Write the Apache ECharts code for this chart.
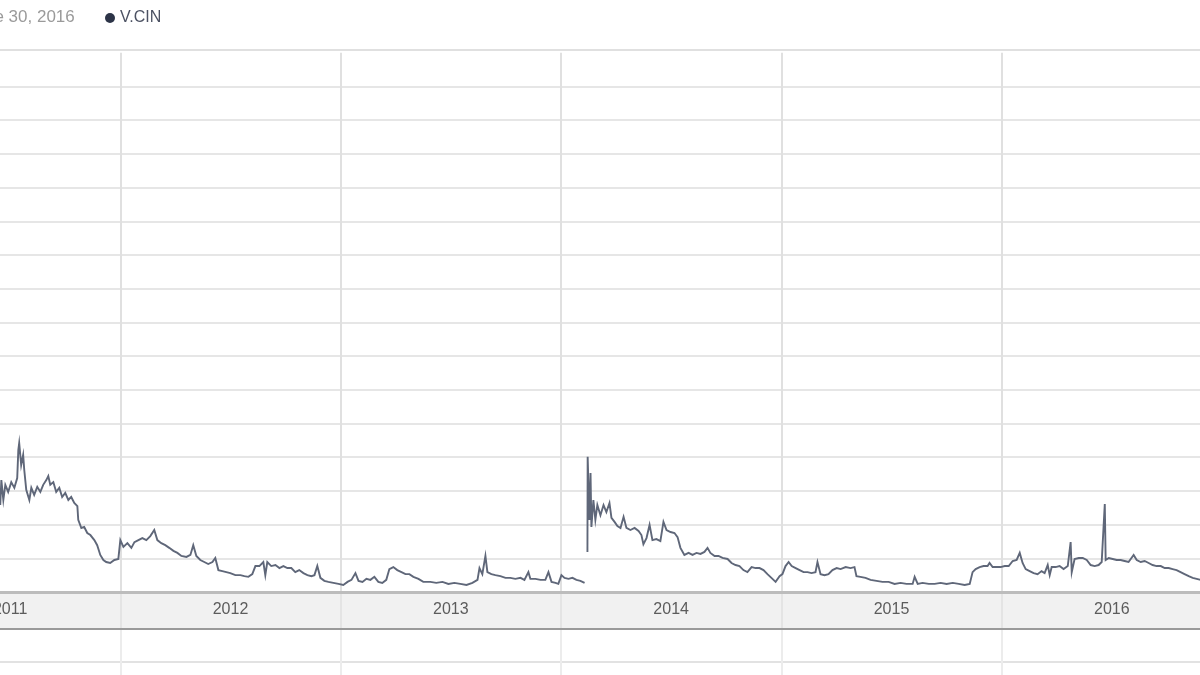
<!DOCTYPE html>
<html>
<head>
<meta charset="utf-8">
<script src="https://cdn.jsdelivr.net/npm/echarts@6/dist/echarts.min.js"></script>
<style>
html,body{margin:0;padding:0;background:#fff;overflow:hidden;width:1200px;height:675px;}
#wrap{position:relative;width:1200px;height:675px;overflow:hidden;}
#chart{position:absolute;left:-100.25px;top:0;width:1321.5px;height:730px;}
</style>
</head>
<body>
<div id="wrap"><div id="chart"></div></div>
<script>
// Year band labels on the time axis
const yearLabels = ['2011','2012','2013','2014','2015','2016'];
// Dates as decimal years ('-' in prices marks the break in the line)
const dates = [
2011.455,2011.460,2011.469,2011.478,2011.491,2011.505,2011.519,2011.532,2011.537,2011.541,
2011.550,2011.559,2011.564,2011.573,2011.587,2011.596,2011.609,2011.623,2011.637,2011.650,
2011.664,2011.673,2011.682,2011.696,2011.709,2011.723,2011.736,2011.750,2011.764,2011.777,
2011.791,2011.805,2011.809,2011.823,2011.836,2011.850,2011.864,2011.882,2011.895,2011.909,
2011.923,2011.936,2011.954,2011.973,2011.991,2012.000,2012.014,2012.032,2012.050,2012.064,
2012.082,2012.100,2012.118,2012.136,2012.154,2012.168,2012.186,2012.204,2012.222,2012.241,
2012.259,2012.277,2012.300,2012.318,2012.331,2012.345,2012.363,2012.381,2012.399,2012.418,
2012.431,2012.445,2012.463,2012.481,2012.499,2012.522,2012.545,2012.563,2012.581,2012.599,
2012.613,2012.631,2012.649,2012.658,2012.667,2012.685,2012.704,2012.722,2012.740,2012.758,
2012.776,2012.794,2012.812,2012.831,2012.849,2012.867,2012.881,2012.894,2012.908,2012.926,
2012.944,2012.967,2012.990,2013.012,2013.031,2013.049,2013.067,2013.081,2013.099,2013.117,
2013.135,2013.153,2013.171,2013.189,2013.207,2013.221,2013.239,2013.257,2013.276,2013.294,
2013.312,2013.330,2013.353,2013.375,2013.407,2013.434,2013.462,2013.489,2013.516,2013.543,
2013.571,2013.598,2013.621,2013.630,2013.643,2013.657,2013.666,2013.684,2013.702,2013.725,
2013.748,2013.770,2013.793,2013.816,2013.834,2013.852,2013.861,2013.884,2013.907,2013.929,
2013.943,2013.957,2013.975,2013.988,2014.002,2014.016,2014.034,2014.052,2014.070,2014.088,
2014.107,2014.114,
2014.120,2014.121,2014.129,2014.134,2014.138,2014.147,2014.156,2014.165,2014.179,2014.193,
2014.206,2014.220,2014.229,2014.243,2014.256,2014.270,2014.284,2014.297,2014.315,2014.334,
2014.352,2014.365,2014.374,2014.388,2014.402,2014.415,2014.433,2014.451,2014.465,2014.479,
2014.497,2014.515,2014.529,2014.542,2014.560,2014.579,2014.597,2014.615,2014.633,2014.651,
2014.665,2014.678,2014.697,2014.715,2014.733,2014.756,2014.774,2014.792,2014.810,2014.828,
2014.846,2014.865,2014.883,2014.901,2014.919,2014.937,2014.955,2014.974,2014.992,2015.005,
2015.019,2015.033,2015.047,2015.065,2015.083,2015.101,2015.119,2015.137,2015.155,2015.164,
2015.178,2015.196,2015.214,2015.232,2015.251,2015.269,2015.292,2015.314,2015.332,2015.341,
2015.359,2015.382,2015.405,2015.432,2015.459,2015.487,2015.514,2015.541,2015.568,2015.596,
2015.605,2015.619,2015.641,2015.669,2015.696,2015.723,2015.750,2015.778,2015.805,2015.832,
2015.855,2015.868,2015.882,2015.900,2015.918,2015.936,2015.945,2015.959,2015.977,2015.995,
2016.014,2016.032,2016.050,2016.068,2016.082,2016.095,2016.109,2016.127,2016.145,2016.163,
2016.181,2016.195,2016.209,2016.218,2016.227,2016.245,2016.263,2016.281,2016.300,2016.313,
2016.318,2016.331,2016.350,2016.368,2016.386,2016.404,2016.422,2016.440,2016.454,2016.468,
2016.472,2016.486,2016.504,2016.522,2016.540,2016.558,2016.576,2016.599,2016.613,2016.631,
2016.649,2016.667,2016.685,2016.703,2016.722,2016.740,2016.758,2016.776,2016.794,2016.812,
2016.830,2016.849,2016.867,2016.885,2016.903
];
// Prices (estimated; '-' = no trading)
const prices = [
0.258,0.332,0.273,0.318,0.297,0.326,0.309,0.338,0.421,0.442,
0.377,0.407,0.362,0.303,0.273,0.309,0.288,0.312,0.297,0.318,
0.332,0.344,0.318,0.326,0.297,0.309,0.282,0.294,0.273,0.282,
0.264,0.255,0.214,0.190,0.193,0.175,0.169,0.154,0.139,0.110,
0.095,0.089,0.086,0.095,0.098,0.154,0.134,0.145,0.131,0.148,
0.154,0.160,0.154,0.166,0.184,0.154,0.145,0.139,0.131,0.122,
0.116,0.107,0.104,0.110,0.139,0.107,0.095,0.089,0.083,0.089,
0.101,0.065,0.062,0.059,0.056,0.050,0.050,0.047,0.045,0.053,
0.077,0.077,0.089,0.050,0.089,0.077,0.080,0.071,0.077,0.071,
0.071,0.059,0.065,0.056,0.050,0.047,0.050,0.077,0.042,0.033,
0.030,0.027,0.024,0.021,0.030,0.036,0.056,0.033,0.030,0.039,
0.036,0.045,0.030,0.027,0.036,0.068,0.074,0.065,0.059,0.053,
0.053,0.045,0.039,0.030,0.030,0.027,0.030,0.024,0.027,0.024,
0.021,0.027,0.036,0.071,0.053,0.107,0.059,0.053,0.050,0.047,
0.042,0.042,0.039,0.042,0.036,0.059,0.039,0.039,0.036,0.036,
0.059,0.030,0.027,0.024,0.050,0.042,0.039,0.042,0.036,0.033,
0.027,'-',
0.119,0.401,0.214,0.353,0.193,0.273,0.214,0.258,0.228,0.258,
0.237,0.264,0.220,0.208,0.196,0.190,0.223,0.190,0.184,0.190,
0.181,0.169,0.142,0.160,0.199,0.154,0.157,0.151,0.208,0.184,
0.178,0.175,0.163,0.131,0.110,0.116,0.110,0.116,0.113,0.119,
0.131,0.116,0.107,0.107,0.101,0.098,0.086,0.080,0.077,0.065,
0.059,0.074,0.071,0.071,0.065,0.053,0.042,0.030,0.047,0.053,
0.077,0.089,0.077,0.071,0.065,0.059,0.059,0.056,0.059,0.089,
0.053,0.050,0.053,0.065,0.071,0.068,0.074,0.071,0.074,0.047,
0.045,0.042,0.036,0.033,0.030,0.030,0.024,0.027,0.024,0.024,
0.045,0.024,0.027,0.024,0.024,0.027,0.024,0.027,0.024,0.021,
0.024,0.059,0.068,0.074,0.077,0.077,0.086,0.074,0.074,0.074,
0.077,0.077,0.092,0.095,0.116,0.086,0.068,0.062,0.056,0.053,
0.062,0.056,0.080,0.050,0.074,0.074,0.077,0.068,0.077,0.148,
0.059,0.098,0.101,0.101,0.095,0.080,0.077,0.080,0.089,0.261,
0.095,0.101,0.098,0.095,0.095,0.092,0.089,0.110,0.095,0.089,
0.092,0.086,0.080,0.077,0.077,0.071,0.071,0.068,0.065,0.059,
0.053,0.047,0.042,0.039,0.036
];
const seriesName = 'V.CIN';
const headerDate = 'June 30, 2016';

const FONT = '"Liberation Sans", Arial, sans-serif';
const chart = echarts.init(document.getElementById('chart'), null, {renderer: 'canvas'});
chart.setOption({
  animation: false,
  backgroundColor: '#ffffff',
  title: {
    text: headerDate, left: 62, top: 4,
    textStyle: {fontFamily: FONT, fontSize: 17, fontWeight: 'normal', color: '#9a9a9a'}
  },
  legend: {
    left: 200, top: 5, icon: 'circle', itemWidth: 10, itemHeight: 10, selectedMode: false,
    data: [{name: seriesName, itemStyle: {color: '#2c3447'}}],
    textStyle: {fontFamily: FONT, fontSize: 16, color: '#4c5263'}
  },
  grid: [
    {left: 0, right: 0, top: 52.8, height: 539.2, show: false},
    {left: 0, right: 0, top: 50, height: 542, show: true, borderColor: '#e0e0e0', borderWidth: 2, backgroundColor: 'transparent'},
    {left: 0, right: 0, top: 592, height: 37, show: true, z: -1, backgroundColor: '#f1f1f1', borderWidth: 0},
    {left: 0, right: 0, top: 629, height: 99, show: false}
  ],
  xAxis: [
    {type: 'value', gridIndex: 0, min: 2011, max: 2017, interval: 1, position: 'bottom',
     axisLabel: {show: false}, axisTick: {show: false},
     axisLine: {show: true, lineStyle: {color: '#bcbcbc', width: 3}},
     splitLine: {show: true, lineStyle: {color: '#e0e0e0', width: 2}}},
    {type: 'category', gridIndex: 0, data: yearLabels, boundaryGap: true, position: 'bottom',
     axisLine: {show: false}, axisTick: {show: false}, splitLine: {show: false},
     axisLabel: {show: true, margin: 10, fontFamily: FONT, fontSize: 16, color: '#5c5c5c'}},
    {type: 'value', gridIndex: 1, min: 2011, max: 2017, show: false},
    {type: 'value', gridIndex: 2, min: 2011, max: 2017, interval: 1, position: 'bottom',
     axisLabel: {show: false}, axisTick: {show: false},
     axisLine: {show: true, lineStyle: {color: '#9a9a9a', width: 2}},
     splitLine: {show: true, lineStyle: {color: '#e4e4e4', width: 2}}},
    {type: 'value', gridIndex: 3, min: 2011, max: 2017, interval: 1,
     axisLabel: {show: false}, axisTick: {show: false}, axisLine: {show: false},
     splitLine: {show: true, lineStyle: {color: '#ececec', width: 2}}}
  ],
  yAxis: [
    {type: 'value', gridIndex: 0, min: 0, max: 1.6, interval: 0.1,
     axisLabel: {show: false}, axisTick: {show: false}, axisLine: {show: false},
     splitLine: {show: true, showMaxLine: false, showMinLine: false, lineStyle: {color: '#e6e6e6', width: 2}}},
    {type: 'value', gridIndex: 1, min: 0, max: 1, show: false},
    {type: 'value', gridIndex: 2, min: 0, max: 1, show: false},
    {type: 'value', gridIndex: 3, min: 0, max: 3, interval: 1,
     axisLabel: {show: false}, axisTick: {show: false}, axisLine: {show: false},
     splitLine: {show: true, showMaxLine: false, lineStyle: {color: '#e2e2e2', width: 2}}}
  ],
  series: [{
    name: seriesName, type: 'line', xAxisIndex: 0, yAxisIndex: 0,
    data: dates.map((d, i) => [d, prices[i]]),
    showSymbol: false, symbol: 'none', connectNulls: false,
    lineStyle: {color: '#5f6779', width: 1.9, join: 'miter'},
    itemStyle: {color: '#2c3447'}
  }]
});
</script>
</body>
</html>
